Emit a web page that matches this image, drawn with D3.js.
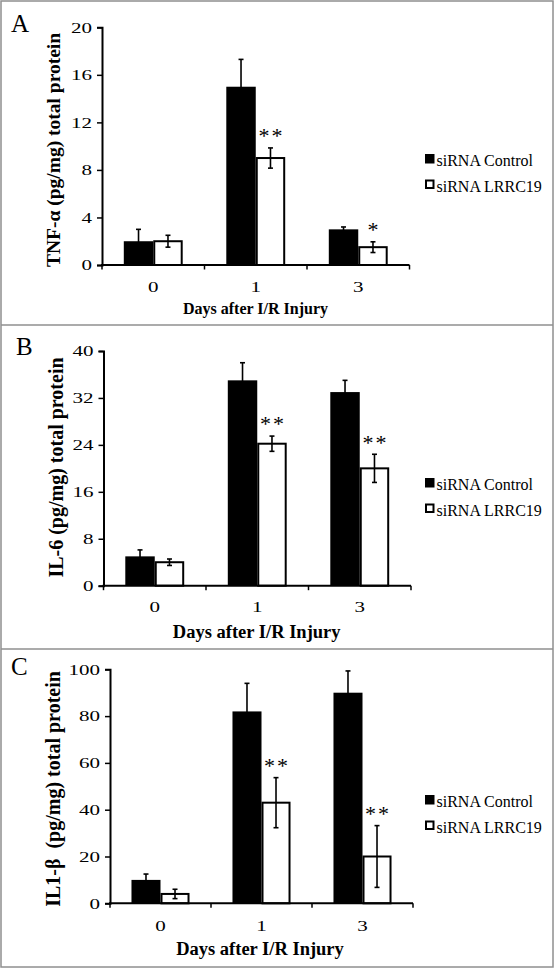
<!DOCTYPE html>
<html><head><meta charset="utf-8">
<script src="https://cdn.jsdelivr.net/npm/d3@7/dist/d3.min.js"></script>
<style>body{margin:0;background:#fff}svg{display:block}</style>
</head><body>
<svg id="c" width="555" height="969"></svg>
<script>
// ---------- data ----------
const days = ["0", "1", "3"];
const seriesNames = ["siRNA Control", "siRNA LRRC19"];

const tnfControl = [2, 15, 3];
const tnfControlErr = [1.0, 2.3, 0.2];
const tnfLrrc = [2, 9, 1.5];
const tnfLrrcErr = [0.5, 0.85, 0.45];
const tnfSig = ["", "**", "*"];
const tnfTicks = [0, 4, 8, 12, 16, 20];

const il6Control = [5, 35, 33];
const il6ControlErr = [1.1, 3, 2];
const il6Lrrc = [4, 24.2, 20];
const il6LrrcErr = [0.55, 1.3, 2.4];
const il6Sig = ["", "**", "**"];
const il6Ticks = [0, 8, 16, 24, 32, 40];

const il1bControl = [10, 82, 90];
const il1bControlErr = [2.5, 12, 9.3];
const il1bLrrc = [4, 43, 20];
const il1bLrrcErr = [2, 10.7, 13.2];
const il1bSig = ["", "**", "**"];
const il1bTicks = [0, 20, 40, 60, 80, 100];

const panelLetters = ["A", "B", "C"];
const yTitles = ["TNF-\u03b1 (pg/mg) total protein", "IL-6 (pg/mg) total protein", "IL1-\u03b2  (pg/mg) total protein"];
const xTitle = "Days after I/R Injury";

// ---------- layout ----------
const layouts = [
  {x0: 102, x1: 409.5, y0: 265, y1: 27.3, letterX: 11, letterY: 32, yTitleX: 60, yTitleY: 150, yTitleSize: 19.5,
   xLabY: 292, xTitleX: 255.5, xTitleY: 313.5, xTitleSize: 16, legY: 166},
  {x0: 103.5, x1: 411, y0: 585.7, y1: 351, letterX: 16, letterY: 355, yTitleX: 63, yTitleY: 467.5, yTitleSize: 20,
   xLabY: 612, xTitleX: 256.7, xTitleY: 638, xTitleSize: 18.5, legY: 490},
  {x0: 110, x1: 413, y0: 903.3, y1: 669.3, letterX: 11, letterY: 675, yTitleX: 60, yTitleY: 789, yTitleSize: 20,
   xLabY: 931, xTitleX: 260, xTitleY: 954.5, xTitleSize: 18.5, legY: 807}
];

const panels = [
  {ticks: tnfTicks, series: [{v: tnfControl, e: tnfControlErr}, {v: tnfLrrc, e: tnfLrrcErr}], sig: tnfSig},
  {ticks: il6Ticks, series: [{v: il6Control, e: il6ControlErr}, {v: il6Lrrc, e: il6LrrcErr}], sig: il6Sig},
  {ticks: il1bTicks, series: [{v: il1bControl, e: il1bControlErr}, {v: il1bLrrc, e: il1bLrrcErr}], sig: il1bSig}
];

const svg = d3.select("#c");
const serif = "'Liberation Serif','Times New Roman',serif";

// frame
svg.append("rect").attr("x", 1).attr("y", 1).attr("width", 552).attr("height", 966)
  .attr("fill", "none").attr("stroke", "#8f8f8f").attr("stroke-width", 1.5);
[325, 649].forEach(yy => svg.append("line").attr("x1", 1).attr("x2", 553).attr("y1", yy).attr("y2", yy)
  .attr("stroke", "#8f8f8f").attr("stroke-width", 1.5));

const digitW = 10.5;

panels.forEach((p, pi) => {
  const L = layouts[pi];
  const g = svg.append("g").attr("font-family", serif);
  const x = d3.scaleBand().domain(days).range([L.x0, L.x1]).paddingInner(0).paddingOuter(0);
  const xs = d3.scaleBand().domain([0, 1]).range([0, x.bandwidth()]).paddingInner(0).paddingOuter(0.74);
  const y = d3.scaleLinear().domain([0, d3.max(p.ticks)]).range([L.y0, L.y1]);

  // bars
  p.series.forEach((s, si) => {
    g.append("g").selectAll("rect").data(s.v).join("rect")
      .attr("x", (d, i) => x(days[i]) + xs(si) + (si ? 1 : 0))
      .attr("y", d => y(d))
      .attr("width", xs.bandwidth() - (si ? 2 : 0))
      .attr("height", d => y(0) - y(d))
      .attr("fill", si ? "#fff" : "#000")
      .attr("stroke", "#000").attr("stroke-width", si ? 2 : 0);
  });
  // error bars
  p.series.forEach((s, si) => {
    const eg = g.append("g").attr("stroke", "#000").attr("stroke-width", 1.6);
    s.v.forEach((d, i) => {
      const cx = x(days[i]) + xs(si) + xs.bandwidth() / 2;
      const top = y(d + s.e[i]), bot = y(Math.max(0, d - s.e[i]));
      eg.append("line").attr("x1", cx).attr("x2", cx).attr("y1", top).attr("y2", bot);
      eg.append("line").attr("x1", cx - 2.5).attr("x2", cx + 2.5).attr("y1", top).attr("y2", top);
      eg.append("line").attr("x1", cx - 2.5).attr("x2", cx + 2.5).attr("y1", bot).attr("y2", bot);
    });
  });
  // significance
  p.sig.forEach((s, i) => {
    if (!s) return;
    const si = 1;
    const cx = x(days[i]) + xs(si) + xs.bandwidth() / 2;
    const top = y(p.series[1].v[i] + p.series[1].e[i]);
    g.append("text").attr("x", cx + 1).attr("y", top - 15 + 0.47 * 22)
      .attr("text-anchor", "middle").attr("font-size", 22).attr("letter-spacing", 2)
      .text(s);
  });

  // y axis
  const ya = g.append("g").attr("transform", `translate(${L.x0},0)`)
    .call(d3.axisLeft(y).tickValues(p.ticks).tickSize(5).tickPadding(5).tickFormat(d3.format("d")));
  ya.select(".domain").attr("stroke-width", 2);
  ya.selectAll(".tick line").attr("stroke-width", 1.5);
  ya.selectAll("text").attr("font-family", serif).attr("font-size", 15).attr("fill", "#000")
    .attr("textLength", d => String(d).length * digitW).attr("lengthAdjust", "spacingAndGlyphs");

  // x axis
  const xa = g.append("g");
  xa.append("line").attr("x1", L.x0 - 1).attr("x2", L.x1).attr("y1", L.y0).attr("y2", L.y0)
    .attr("stroke", "#000").attr("stroke-width", 2);
  const bounds = days.map(d => x(d)).concat([L.x1]);
  xa.selectAll("line.t").data(bounds).join("line").attr("class", "t")
    .attr("x1", d => d).attr("x2", d => d).attr("y1", L.y0).attr("y2", L.y0 + 4.5)
    .attr("stroke", "#000").attr("stroke-width", 1.5);
  xa.selectAll("text").data(days).join("text")
    .attr("x", d => x(d) + x.bandwidth() / 2).attr("y", L.xLabY)
    .attr("text-anchor", "middle").attr("font-size", 15)
    .attr("textLength", d => d.length * digitW).attr("lengthAdjust", "spacingAndGlyphs")
    .text(d => d);

  // titles
  g.append("text").attr("x", L.xTitleX).attr("y", L.xTitleY).attr("text-anchor", "middle")
    .attr("font-weight", "bold").attr("font-size", L.xTitleSize).text(xTitle);
  g.append("text").attr("transform", `translate(${L.yTitleX},${L.yTitleY}) rotate(-90)`)
    .attr("text-anchor", "middle").attr("font-weight", "bold").attr("font-size", L.yTitleSize)
    .attr("xml:space", "preserve").style("white-space", "pre").text(yTitles[pi]);
  g.append("text").attr("x", L.letterX).attr("y", L.letterY).attr("font-size", 25).text(panelLetters[pi]);

  // legend
  const lg = g.append("g").attr("transform", `translate(425,${L.legY})`);
  seriesNames.forEach((n, si) => {
    const yy = si * 25.5;
    lg.append("rect").attr("x", si ? 1 : 0).attr("y", yy - 12 + (si ? 1 : 0))
      .attr("width", si ? 7.5 : 9.5).attr("height", si ? 7.5 : 9.5)
      .attr("fill", si ? "#fff" : "#000").attr("stroke", "#000").attr("stroke-width", si ? 2 : 0);
    lg.append("text").attr("x", 11.5).attr("y", yy).attr("font-size", 16).text(n);
  });
});
</script>
</body></html>
